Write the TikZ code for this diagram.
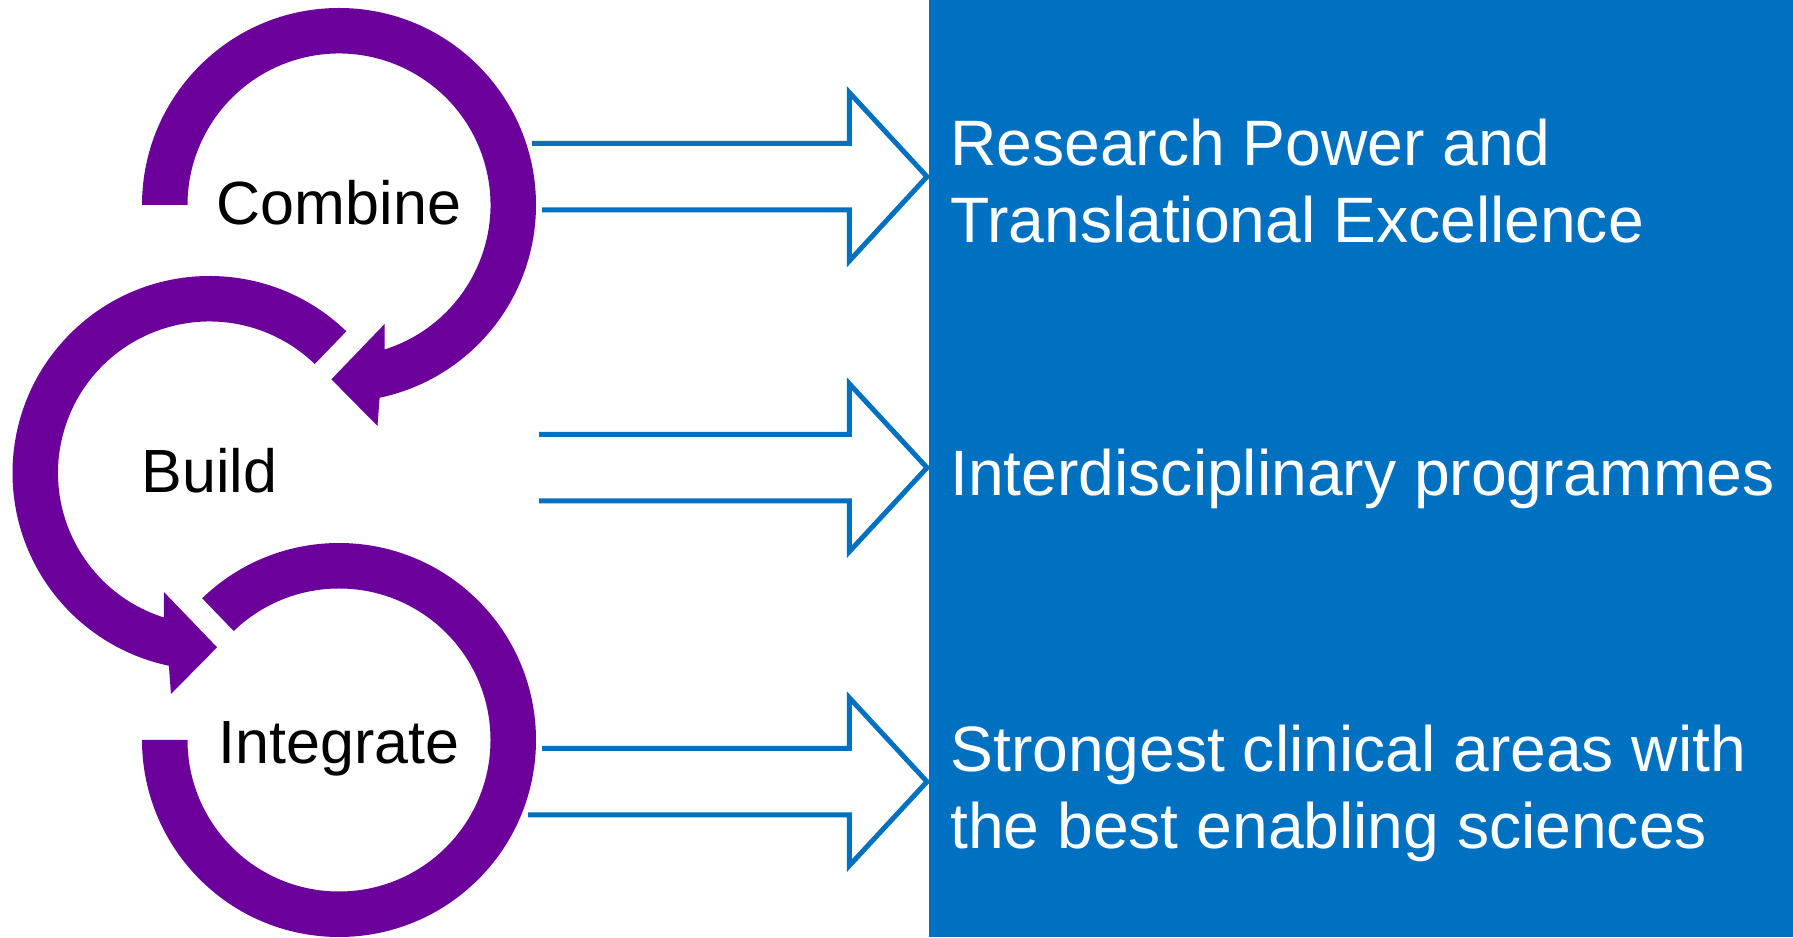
\documentclass[tikz,border=0pt]{standalone}
\usepackage{fontspec}
\setmainfont{Liberation Sans}
\usetikzlibrary{calc}
\definecolor{kpurple}{RGB}{108,0,154}
\definecolor{kblue}{RGB}{0,112,192}
\begin{document}
\begin{tikzpicture}[x=0.5pt,y=0.5pt,
  ring/.style={fill=kpurple, draw=none},
  blockarrow/.style={draw=kblue, line width=2.5pt, miter limit=10},
  lbl/.style={font=\fontsize{30.5}{36}\selectfont, text=black, inner sep=0pt, anchor=base},
  rtxt/.style={font=\fontsize{32.1}{38}\selectfont, text=white, inner sep=0pt, anchor=base west}]
\useasboundingbox (0,0) rectangle (1793,937);
% blue panel
\fill[kblue] (929,0) rectangle (1793,937);
% circle centres
\coordinate (c1) at (339,732);
\coordinate (c2) at (209.5,464);
\coordinate (c3) at (339,197);
% Combine ring (arrow ends at lower left)
\fill[ring] ($(c1)+(180:197)$) arc[start angle=180,end angle=-78.1,radius=197]
  -- ($(c1)+(38.5,-221)$) -- ($(c1)+(-7.6,-174.3)$) -- ($(c1)+(45.6,-119)$)
  -- ($(c1)+(-72.5:151.5)$) arc[start angle=-72.5,end angle=180,radius=151.5] -- cycle;
% Build ring (mirror)
\fill[ring] ($(c2)+(46:197)$) arc[start angle=46,end angle=258.1,radius=197]
  -- ($(c2)+(-38.5,-221)$) -- ($(c2)+(7.6,-174.3)$) -- ($(c2)+(-45.6,-119)$)
  -- ($(c2)+(252.5:151.5)$) arc[start angle=252.5,end angle=46,radius=151.5] -- cycle;
% Integrate ring
\fill[ring] ($(c3)+(134:197)$) arc[start angle=134,end angle=-180,radius=197]
  -- ($(c3)+(180:151.5)$) arc[start angle=-180,end angle=134,radius=151.5] -- cycle;
% block arrows
\draw[blockarrow] (532,793.7) -- (849.3,793.7) -- (849.3,844.5) -- (927,760.3)
  -- (849.3,676) -- (849.3,727) -- (542,727);
\draw[blockarrow] (539,502.7) -- (849.3,502.7) -- (849.3,553.3) -- (927,469.3)
  -- (849.3,385.3) -- (849.3,436) -- (539,436);
\draw[blockarrow] (542,188.7) -- (849.3,188.7) -- (849.3,239.3) -- (927,155.3)
  -- (849.3,71.3) -- (849.3,122) -- (528,122);
% labels
\node[lbl] (combine) at (339,712) {Combine};
\node[lbl] (build) at (209.5,444) {Build};
\node[lbl] (integrate) at (339,173) {Integrate};
\node[rtxt] (r1a) at (950,771) {Research Power and};
\node[rtxt] (r1b) at (950,694) {Translational Excellence};
\node[rtxt] (r2) at (950,441) {Interdisciplinary programmes};
\node[rtxt] (r3a) at (950,165) {Strongest clinical areas with};
\node[rtxt] (r3b) at (950,89) {the best enabling sciences};
\end{tikzpicture}
\end{document}
